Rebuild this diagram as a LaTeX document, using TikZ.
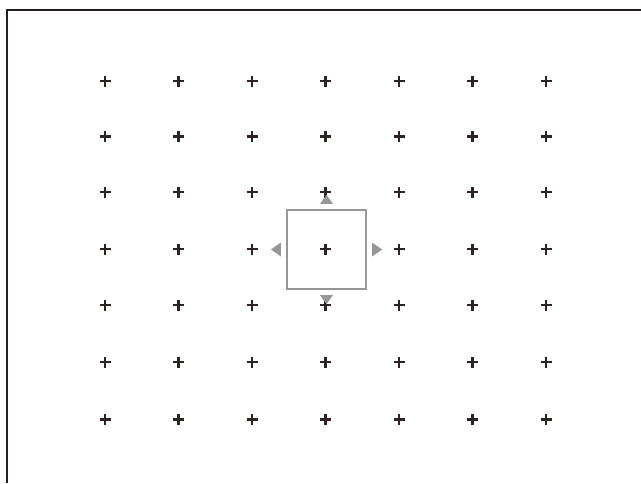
\documentclass[tikz,border=0pt]{standalone}
\begin{document}
\begin{tikzpicture}[x=1pt,y=-1pt,
  plusmark/.style={draw=none,inner sep=0pt,minimum size=0pt},
  crossline/.style={line width=2.6pt,draw={rgb,255:red,45;green,35;blue,35}},
  frameline/.style={line width=2pt,draw={rgb,255:red,40;green,28;blue,30}},
  selbox/.style={draw={rgb,255:red,150;green,150;blue,150},line width=2.2pt,minimum size=79pt,inner sep=0pt},
  tri/.style={fill={rgb,255:red,150;green,150;blue,150}}]
\useasboundingbox (0,0) rectangle (641,483);
\fill[white] (0,0) rectangle (641,483);
\coordinate (tl) at (7,10);
\coordinate (tr) at (641,10);
\coordinate (bl) at (7,483);
\draw[frameline] (bl) -- (tl) -- (tr);
\foreach \i/\x in {1/105,2/178.5,3/252,4/325.5,5/399,6/472.5,7/546}{
  \foreach \j/\y in {1/81,2/136.5,3/192,4/249,5/305,6/362,7/419.5}{
    \node[plusmark] (p\i\j) at (\x,\y) {};
    \draw[crossline] ([xshift=-5.5pt]p\i\j.center) -- ([xshift=5.5pt]p\i\j.center);
    \draw[crossline] ([yshift=-5.5pt]p\i\j.center) -- ([yshift=5.5pt]p\i\j.center);
  }
}
\node[selbox] (sel) at (326.5,249.5) {};
\fill[tri] ([yshift=5pt]sel.north) ++(-6.5,0) -- ++(13,0) -- ++(-6.5,-9) -- cycle;
\fill[tri] ([yshift=-5pt]sel.south) ++(-6.5,0) -- ++(13,0) -- ++(-6.5,9) -- cycle;
\fill[tri] ([xshift=-5pt]sel.west) ++(0,-7) -- ++(0,14) -- ++(-10,-7) -- cycle;
\fill[tri] ([xshift=5pt]sel.east) ++(0,-7) -- ++(0,14) -- ++(10,-7) -- cycle;
\end{tikzpicture}
\end{document}
